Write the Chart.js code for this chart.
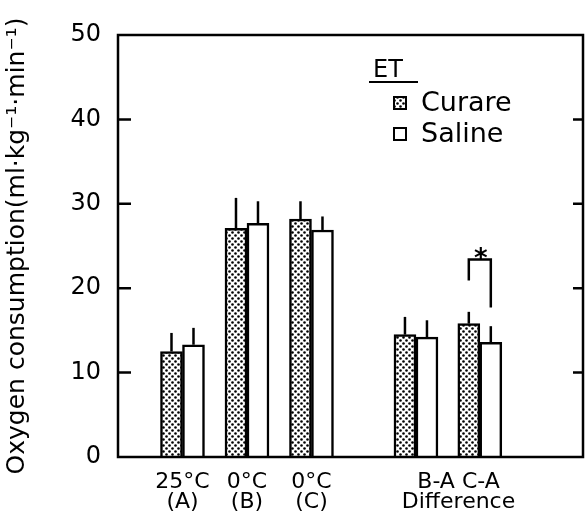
<!DOCTYPE html>
<html>
<head>
<meta charset="utf-8">
<script src="https://cdn.jsdelivr.net/npm/chart.js@4.4.1/dist/chart.umd.min.js"></script>
<style>
  html, body { margin: 0; padding: 0; background: #fff; }
  #wrap { width: 586px; height: 532px; }
</style>
</head>
<body>
<div id="wrap"><canvas id="chart" width="586" height="532"></canvas></div>
<script>
// data
const groupLabels = [['25°C', '(A)'], ['0°C', '(B)'], ['0°C', '(C)'], ['B-A C-A', 'Difference']];
const labelPos = [1, 2, 3, 5.28];
const groupPos = [1, 2, 3, 4.62, 5.61];
const curare = [12.5, 27.1, 28.2, 14.5, 15.8];
const curareErr = [2.2, 3.6, 2.1, 2.1, 1.4];
const saline = [13.3, 27.7, 26.9, 14.2, 13.6];
const salineErr = [2.0, 2.6, 1.6, 2.0, 1.9];
const yTicks = [0, 10, 20, 30, 40, 50];

const FONT = '"DejaVu Sans", sans-serif';

function dotPattern() {
    const c = document.createElement('canvas');
    c.width = 6; c.height = 6;
    const g = c.getContext('2d');
    g.fillStyle = '#fff';
    g.fillRect(0, 0, 6, 6);
    g.fillStyle = '#000';
    g.beginPath(); g.arc(1.5, 1.5, 1.3, 0, Math.PI * 2); g.fill();
    g.beginPath(); g.arc(4.5, 4.5, 1.3, 0, Math.PI * 2); g.fill();
    return g.createPattern(c, 'repeat');
}
const dots = dotPattern();

// frame + inward ticks
const framePlugin = {
    id: 'frame',
    afterDraw(chart) {
        const { ctx, chartArea: a, scales: { y } } = chart;
        ctx.save();
        ctx.strokeStyle = '#000';
        ctx.lineWidth = 2.5;
        ctx.strokeRect(a.left, a.top, a.right - a.left, a.bottom - a.top);
        yTicks.slice(1, -1).forEach(v => {
            const py = y.getPixelForValue(v);
            ctx.beginPath();
            ctx.moveTo(a.left, py); ctx.lineTo(a.left + 13, py);
            ctx.moveTo(a.right - 10, py); ctx.lineTo(a.right, py);
            ctx.stroke();
        });
        ctx.restore();
    }
};

// upward error bars
const errorPlugin = {
    id: 'errors',
    afterDatasetsDraw(chart) {
        const { ctx, scales: { y } } = chart;
        ctx.save();
        ctx.strokeStyle = '#000';
        ctx.lineWidth = 2.5;
        chart.data.datasets.forEach((ds, di) => {
            chart.getDatasetMeta(di).data.forEach((bar, i) => {
                const top = y.getPixelForValue(ds.data[i].y + ds.errors[i]);
                ctx.beginPath();
                ctx.moveTo(bar.x, bar.y);
                ctx.lineTo(bar.x, top);
                ctx.stroke();
            });
        });
        // significance bracket on C-A
        const l = chart.getDatasetMeta(0).data[4].x;
        const r = chart.getDatasetMeta(1).data[4].x;
        ctx.beginPath();
        ctx.moveTo(l, y.getPixelForValue(20.9));
        ctx.lineTo(l, y.getPixelForValue(23.4));
        ctx.lineTo(r, y.getPixelForValue(23.4));
        ctx.lineTo(r, y.getPixelForValue(17.7));
        ctx.stroke();
        ctx.fillStyle = '#000';
        ctx.font = 'bold 26px ' + FONT;
        ctx.textAlign = 'center';
        ctx.textBaseline = 'middle';
        ctx.fillText('*', (l + r) / 2 + 1, y.getPixelForValue(23.4) + 1);
        ctx.restore();
    }
};

// legend inside the plot
const legendPlugin = {
    id: 'etLegend',
    afterDraw(chart) {
        const { ctx } = chart;
        ctx.save();
        ctx.fillStyle = '#000';
        ctx.strokeStyle = '#000';
        ctx.font = '24px ' + FONT;
        ctx.textBaseline = 'alphabetic';
        ctx.textAlign = 'left';
        ctx.fillText('ET', 373, 77);
        ctx.lineWidth = 2;
        ctx.beginPath(); ctx.moveTo(369, 82); ctx.lineTo(418, 82); ctx.stroke();
        ctx.font = '27px ' + FONT;
        ctx.textBaseline = 'middle';
        chart.data.datasets.forEach((ds, i) => {
            const cy = 103 + i * 31;
            ctx.fillStyle = ds.backgroundColor;
            ctx.fillRect(394, cy - 6, 12, 12);
            ctx.lineWidth = 2;
            ctx.strokeRect(394, cy - 6, 12, 12);
            ctx.fillStyle = '#000';
            ctx.fillText(ds.label, 421, cy + 1);
        });
        ctx.restore();
    }
};

new Chart(document.getElementById('chart'), {
    type: 'bar',
    data: {
        datasets: [
            {
                label: 'Curare',
                data: groupPos.map((x, i) => ({ x: x, y: curare[i] })),
                errors: curareErr,
                backgroundColor: dots,
                borderColor: '#000',
                borderWidth: 2.5,
                borderSkipped: 'bottom',
                barThickness: 22
            },
            {
                label: 'Saline',
                data: groupPos.map((x, i) => ({ x: x, y: saline[i] })),
                errors: salineErr,
                backgroundColor: '#fff',
                borderColor: '#000',
                borderWidth: 2.5,
                borderSkipped: 'bottom',
                barThickness: 22
            }
        ]
    },
    options: {
        responsive: false,
        animation: false,
        layout: { padding: { top: 35, right: 3, left: 0, bottom: 0 } },
        plugins: { legend: { display: false }, tooltip: { enabled: false } },
        scales: {
            x: {
                type: 'linear',
                offset: false,
                min: 0,
                max: 7.21,
                afterBuildTicks: s => { s.ticks = labelPos.map(v => ({ value: v })); },
                afterFit: s => { s.height = 75; },
                grid: { display: false, drawTicks: false, offset: false },
                border: { display: false },
                ticks: {
                    autoSkip: false,
                    maxRotation: 0,
                    padding: 16,
                    color: '#000',
                    font: { family: FONT, size: 22, lineHeight: 0.88 },
                    callback: (v, i) => groupLabels[i]
                }
            },
            y: {
                min: 0,
                max: 50,
                afterBuildTicks: s => { s.ticks = yTicks.map(v => ({ value: v })); },
                afterFit: s => { s.width = 118; },
                grid: { display: false, drawTicks: false },
                border: { display: false },
                ticks: {
                    padding: 17,
                    color: '#000',
                    font: { family: FONT, size: 24 }
                },
                title: {
                    display: true,
                    text: 'Oxygen consumption(ml·kg⁻¹·min⁻¹)',
                    color: '#000',
                    font: { family: FONT, size: 25 },
                    padding: { top: 2, bottom: 0 }
                }
            }
        }
    },
    plugins: [framePlugin, errorPlugin, legendPlugin]
});
</script>
</body>
</html>
